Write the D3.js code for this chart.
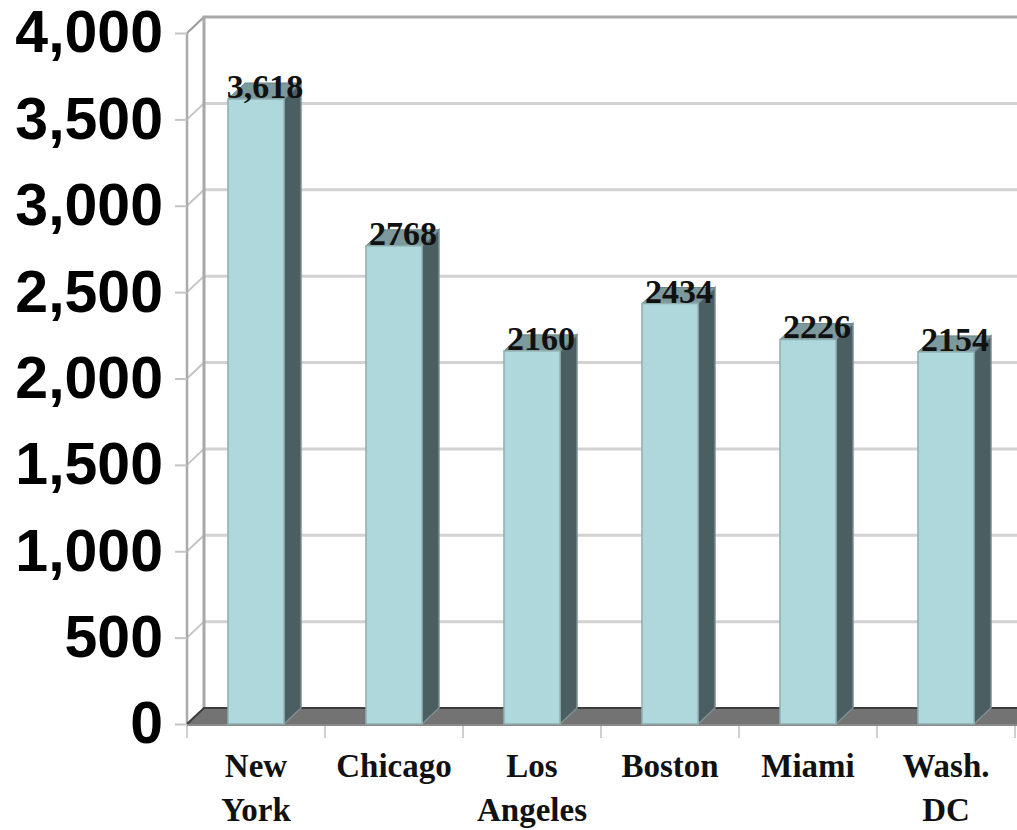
<!DOCTYPE html>
<html>
<head>
<meta charset="utf-8">
<script src="https://cdn.jsdelivr.net/npm/d3@7"></script>
<style>
  body { margin: 0; background: #fff; }
  svg { display: block; }
</style>
</head>
<body>
<div id="chart"></div>
<script>
"use strict";

const cities = ["New York", "Chicago", "Los Angeles", "Boston", "Miami", "Wash. DC"];
const values = [3618, 2768, 2160, 2434, 2226, 2154];
const valueLabels = ["3,618", "2768", "2160", "2434", "2226", "2154"];
const yTicks = [0, 500, 1000, 1500, 2000, 2500, 3000, 3500, 4000];

const width = 1017, height = 830;
// 3d offset of the back wall
const dx = 17, dy = 16;
const serif = "'Liberation Serif', 'Times New Roman', serif";
const sans = "'Liberation Sans', Arial, sans-serif";

const x = d3.scaleBand()
    .domain(cities)
    .range([187, 1015])
    .paddingInner(0.594)
    .paddingOuter(0.297);

const y = d3.scaleLinear()
    .domain([0, 4000])
    .range([724, 33]);

const svg = d3.select("#chart")
    .append("svg")
    .attr("width", width)
    .attr("height", height);

const x0 = x.range()[0];
const xEnd = width + 40;

// back wall gridlines
svg.append("g")
    .selectAll("line")
    .data(yTicks.filter(d => d > 0 && d < 4000))
    .join("line")
    .attr("x1", x0 + dx)
    .attr("x2", xEnd)
    .attr("y1", d => y(d) - dy)
    .attr("y2", d => y(d) - dy)
    .attr("stroke", "#d2d2d2")
    .attr("stroke-width", 3);

// side wall diagonals at each tick
svg.append("g")
    .selectAll("line")
    .data(yTicks.filter(d => d > 0))
    .join("line")
    .attr("x1", x0)
    .attr("x2", x0 + dx)
    .attr("y1", d => y(d))
    .attr("y2", d => y(d) - dy)
    .attr("stroke", d => d === 4000 ? "#999" : "#c4c4c4")
    .attr("stroke-width", 2);

// wall frame
svg.append("path")
    .attr("d", `M${x0 + dx},${y(0) - dy}V${y(4000) - dy}H${xEnd}`)
    .attr("fill", "none")
    .attr("stroke", "#a8a8a8")
    .attr("stroke-width", 3);

svg.append("line")
    .attr("x1", x0).attr("x2", x0)
    .attr("y1", y(0)).attr("y2", y(4000))
    .attr("stroke", "#aaa")
    .attr("stroke-width", 2.5);

// floor
svg.append("path")
    .attr("d", `M${x0},${y(0)}L${x0 + dx},${y(0) - dy}H${xEnd}L${xEnd},${y(0)}Z`)
    .attr("fill", "#737373");
svg.append("path")
    .attr("d", `M${x0},${y(0)}L${x0 + dx},${y(0) - dy}H${xEnd}`)
    .attr("fill", "none")
    .attr("stroke", "#3c3c3c")
    .attr("stroke-width", 2);
svg.append("line")
    .attr("x1", x0).attr("x2", xEnd)
    .attr("y1", y(0) + 1).attr("y2", y(0) + 1)
    .attr("stroke", "#8a8a8a")
    .attr("stroke-width", 2);

// category ticks under the floor
svg.append("g")
    .selectAll("line")
    .data(d3.range(cities.length + 1))
    .join("line")
    .attr("x1", i => x0 + i * x.step())
    .attr("x2", i => x0 + i * x.step())
    .attr("y1", y(0) + 2)
    .attr("y2", y(0) + 14)
    .attr("stroke", "#cfcfcf")
    .attr("stroke-width", 2);

// bars
const data = cities.map((c, i) => ({city: c, value: values[i], label: valueLabels[i]}));
const bw = x.bandwidth();

const bar = svg.append("g")
    .selectAll("g")
    .data(data)
    .join("g");

bar.append("path")
    .attr("d", d => {
        const a = x(d.city) + bw, t = y(d.value), b = y(0);
        return `M${a},${t}L${a + dx},${t - dy}V${b - dy}L${a},${b}Z`;
    })
    .attr("fill", "#4b5e62")
    .attr("stroke", "#7f9093")
    .attr("stroke-width", 1.5);

bar.append("path")
    .attr("d", d => {
        const a = x(d.city), t = y(d.value);
        return `M${a},${t}H${a + bw}L${a + bw + dx},${t - dy}H${a + dx}Z`;
    })
    .attr("fill", "#7c9a9d")
    .attr("stroke", "#6d8688")
    .attr("stroke-width", 1);

bar.append("rect")
    .attr("x", d => x(d.city))
    .attr("y", d => y(d.value))
    .attr("width", bw)
    .attr("height", d => y(0) - y(d.value))
    .attr("fill", "#aed8dc")
    .attr("stroke", "#8eaeb0")
    .attr("stroke-width", 1.5);

bar.append("text")
    .attr("x", d => x(d.city) + bw / 2 + 9)
    .attr("y", d => y(d.value) - 1)
    .attr("text-anchor", "middle")
    .style("font-family", serif)
    .style("font-weight", "bold")
    .style("font-size", "34px")
    .attr("fill", "#111")
    .text(d => d.label);

// y axis
const yAxis = d3.axisLeft(y)
    .tickValues(yTicks)
    .tickFormat(d3.format(","))
    .tickSize(12)
    .tickPadding(12);

const gy = svg.append("g")
    .attr("transform", `translate(${x0},0)`)
    .call(yAxis);
gy.select(".domain").remove();
gy.selectAll(".tick line")
    .attr("stroke", "#c4c4c4")
    .attr("stroke-width", 2);
gy.selectAll(".tick text")
    .style("font-family", sans)
    .style("font-weight", "bold")
    .style("font-size", "59px")
    .attr("fill", "#000");

// category labels
svg.append("g")
    .selectAll("text")
    .data(cities)
    .join("text")
    .attr("text-anchor", "middle")
    .style("font-family", serif)
    .style("font-weight", "bold")
    .style("font-size", "33px")
    .attr("fill", "#111")
    .each(function(c) {
        const words = c.split(" ");
        d3.select(this).selectAll("tspan")
            .data(words)
            .join("tspan")
            .attr("x", x(c) + bw / 2)
            .attr("y", (w, i) => 777 + i * 44)
            .text(w => w);
    });
</script>
</body>
</html>
